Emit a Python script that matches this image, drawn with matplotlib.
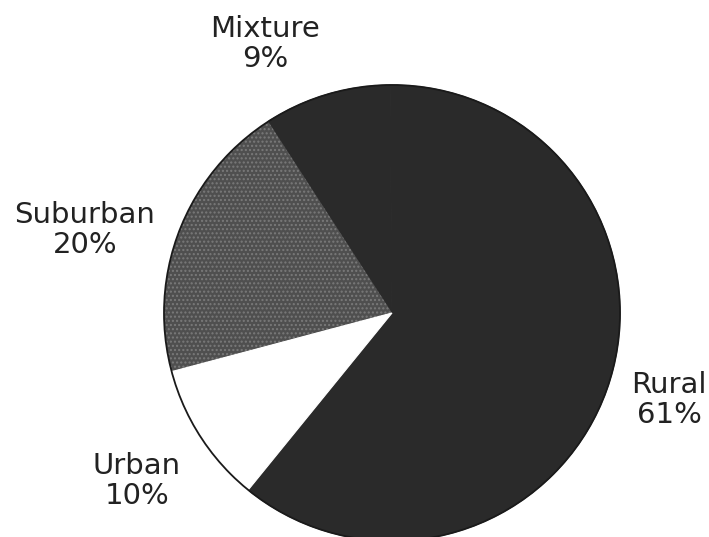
import matplotlib.pyplot as plt

# Datos del gráfico (orden antihorario desde arriba)
categories = ["Mixture", "Suburban", "Urban", "Rural"]
shares = [9, 20, 10, 61]
slice_colors = ["#2a2a2a", "#4f4f4f", "#ffffff", "#2a2a2a"]

# Posición de las etiquetas (píxeles de la figura, origen arriba-izquierda)
label_pos = {
    "Mixture": (265, 44),
    "Suburban": (85, 230),
    "Urban": (137, 481),
    "Rural": (669, 400),
}

W, H = 709, 537
fig = plt.figure(figsize=(W / 100, H / 100), dpi=100)
ax = fig.add_axes([0, 0, 1, 1])

center = (392, H - 313)
radius = 228

wedges, _ = ax.pie(
    shares,
    colors=slice_colors,
    startangle=90.5,
    counterclock=True,
    center=center,
    radius=radius,
    wedgeprops=dict(linewidth=0),
    frame=True,
)
ax.set_xlim(0, W)
ax.set_ylim(0, H)
ax.set_aspect("equal")
ax.axis("off")

# Bordes del mismo color para evitar costuras entre sectores oscuros
for w, c in zip(wedges, slice_colors):
    w.set_edgecolor(c)
    w.set_linewidth(0.8)

# Textura del sector suburbano
wedges[1].set_hatch("....")
wedges[1].set_edgecolor("#7a7a7a")
wedges[1].set_linewidth(0)
wedges[2].set_zorder(1.1)

# Contorno del círculo
outline = plt.Circle(center, radius, fill=False, edgecolor="#1a1a1a",
                     linewidth=1.3, zorder=3)
ax.add_patch(outline)

for name, val in zip(categories, shares):
    x, y = label_pos[name]
    ax.text(x, H - y, f"{name}\n{val}%", ha="center", va="center",
            fontsize=21, color="#222222", linespacing=1.1,
            fontfamily="DejaVu Sans")

fig.savefig("out.png", dpi=100, facecolor="white")
